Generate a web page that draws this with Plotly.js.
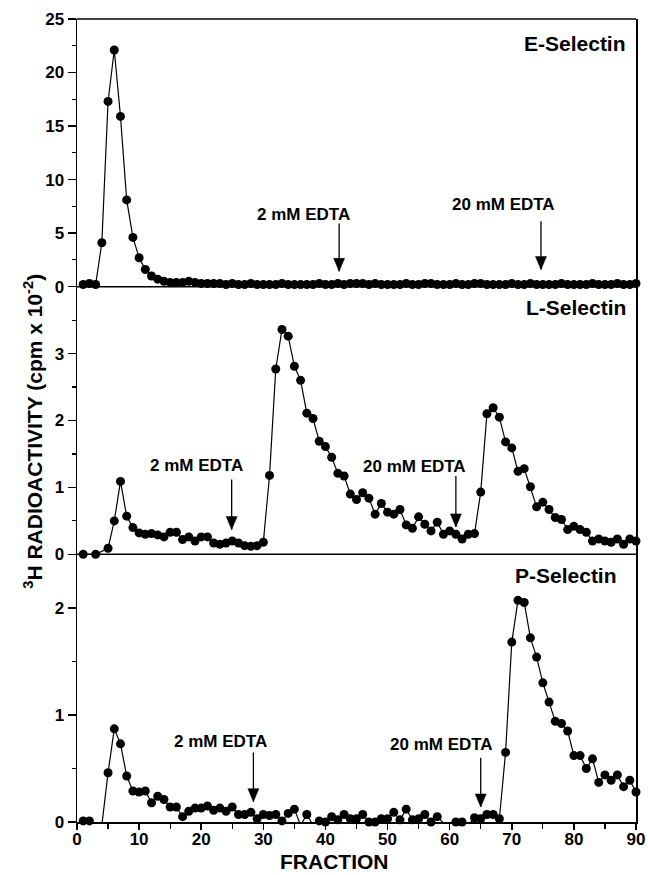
<!DOCTYPE html>
<html><head><meta charset="utf-8">
<script src="https://cdn.plot.ly/plotly-3.0.1.min.js"></script>
<style>html,body{margin:0;padding:0;background:#fff}</style>
</head><body>
<div id="chart" style="width:648px;height:875px"></div>
<script>
// ---------- data ----------
const eFractions = [1,2,3,4,5,6,7,8,9,10,11,12,13,14,15,16,17,18,19,20,21,22,23,24,25,26,27,28,29,30,31,32,33,34,35,36,37,38,39,40,41,42,43,44,45,46,47,48,49,50,51,52,53,54,55,56,57,58,59,60,61,62,63,64,65,66,67,68,69,70,71,72,73,74,75,76,77,78,79,80,81,82,83,84,85,86,87,88,89,90];
const eValues = [0.2,0.3,0.2,4.1,17.3,22.1,15.9,8.1,4.6,2.7,
                 1.6,1.0,0.7,0.5,0.4,0.4,0.4,0.5,0.4,0.3,
                 0.3,0.3,0.3,0.2,0.3,0.2,0.2,0.3,0.2,0.2,
                 0.2,0.2,0.3,0.2,0.2,0.2,0.2,0.2,0.3,0.2,
                 0.2,0.3,0.2,0.3,0.3,0.3,0.2,0.3,0.2,0.2,
                 0.2,0.2,0.3,0.2,0.2,0.3,0.3,0.2,0.2,0.2,
                 0.3,0.2,0.2,0.3,0.3,0.2,0.2,0.2,0.2,0.3,
                 0.2,0.2,0.3,0.2,0.2,0.2,0.2,0.3,0.2,0.2,
                 0.2,0.2,0.3,0.2,0.2,0.2,0.3,0.2,0.2,0.3];
const eHidden = [];

const lFractions = [1,3,5,6,7,8,9,10,11,12,13,14,15,16,17,18,19,20,21,22,23,24,25,26,27,28,29,30,31,32,33,34,35,36,37,38,39,40,41,42,43,44,45,46,47,48,49,50,51,52,53,54,55,56,57,58,59,60,61,62,63,64,65,66,67,68,69,70,71,72,73,74,75,76,77,78,79,80,81,82,83,84,85,86,87,88,89,90];
const lValues = [0.0,0.0,
                 0.09,0.50,1.09,0.57,0.40,0.32,
                 0.30,0.31,0.29,0.26,0.33,0.33,0.22,0.26,0.20,0.26,
                 0.26,0.17,0.15,0.17,0.20,0.17,0.13,0.12,0.13,0.18,
                 1.18,2.77,3.36,3.26,2.81,2.60,2.11,2.03,1.69,1.61,
                 1.45,1.21,1.17,0.90,0.82,0.92,0.84,0.60,0.76,0.63,
                 0.60,0.67,0.44,0.39,0.56,0.45,0.35,0.48,0.30,0.35,
                 0.30,0.23,0.30,0.31,0.93,2.10,2.19,2.05,1.68,1.59,
                 1.24,1.28,1.01,0.71,0.78,0.67,0.55,0.52,0.37,0.42,
                 0.37,0.33,0.20,0.23,0.20,0.18,0.23,0.15,0.23,0.20];
const lHidden = [];

const pFractions = [1,2,3,4,5,6,7,8,9,10,11,12,13,14,15,16,17,18,19,20,21,22,23,24,25,26,27,28,29,30,31,32,33,34,35,36,37,38,39,40,41,42,43,44,45,46,47,48,49,50,51,52,53,54,55,56,57,58,59,60,61,62,63,64,65,66,67,68,69,70,71,72,73,74,75,76,77,78,79,80,81,82,83,84,85,86,87,88,89,90];
const pValues = [0.01,0.01,-0.03,-0.03,0.46,0.87,0.73,0.43,0.29,0.28,
                 0.29,0.18,0.24,0.21,0.14,0.14,0.05,0.10,0.13,0.13,
                 0.15,0.11,0.13,0.10,0.14,0.07,0.07,0.09,0.03,0.07,
                 0.06,0.07,0.01,0.08,0.12,-0.03,0.07,-0.03,0.01,0.00,
                 0.05,0.02,0.07,0.03,0.03,0.07,0.00,0.00,0.03,0.03,
                 0.09,0.02,0.12,0.02,0.03,0.07,0.00,0.05,-0.01,-0.01,
                 0.00,0.00,-0.03,0.04,0.03,0.07,0.07,0.03,0.65,1.68,
                 2.07,2.05,1.72,1.54,1.30,1.12,0.94,0.92,0.85,0.62,
                 0.62,0.50,0.59,0.37,0.44,0.39,0.44,0.33,0.39,0.28];
const pHidden = [3,4,36,38,63];

const panelLabels = ['E-Selectin','L-Selectin','P-Selectin'];
const edtaLabels = ['2 mM EDTA','20 mM EDTA'];
const eEdtaFractions = [42.2, 74.7];
const lEdtaFractions = [24.9, 61.0];
const pEdtaFractions = [28.4, 65.0];
const xTickVals = [0,10,20,30,40,50,60,70,80,90];
const eTickVals = [0,5,10,15,20,25];
const lTickVals = [0,1,2,3];
const pTickVals = [0,1,2];

// ---------- drawing ----------
const FONT = 'Liberation Sans, Arial, Helvetica, sans-serif';
const BLACK = '#000';

function series(fr, vals, hidden, yax) {
  return {
    type: 'scatter', mode: 'lines+markers', x: fr, y: vals, xaxis: 'x', yaxis: yax,
    cliponaxis: false, hoverinfo: 'skip',
    line: {color: BLACK, width: 1.2},
    marker: {color: BLACK, opacity: 1, line: {width: 0},
             size: fr.map(f => hidden.indexOf(f) >= 0 ? 0 : 9)}
  };
}

const traces = [
  series(eFractions, eValues, eHidden, 'y'),
  series(lFractions, lValues, lHidden, 'y2'),
  series(pFractions, pValues, pHidden, 'y3')
];

const tickFont = {family: FONT, size: 17, color: BLACK, weight: 'bold'};
function yAxis(domain, range, tickvals, minorD) {
  return {
    domain: domain, range: range, anchor: 'x', tickvals: tickvals,
    showline: true, linecolor: BLACK, linewidth: 1.5, mirror: true,
    ticks: 'outside', ticklen: 8, tickwidth: 1.5, tickcolor: BLACK,
    showgrid: false, zeroline: false, tickfont: tickFont,
    minor: {dtick: minorD, tick0: 0, ticks: 'outside', ticklen: 4, tickwidth: 1.2, tickcolor: BLACK, showgrid: false}
  };
}

// arrows: a shaft line plus a filled triangular head sized in pixels
const shapes = [];
function arrow(fx, yref, tip, tail) {
  shapes.push({type: 'line', xref: 'x', yref: yref, x0: fx, x1: fx, y0: tail, y1: tip,
               line: {color: BLACK, width: 1.3}});
  shapes.push({type: 'path', xref: 'x', yref: yref, xsizemode: 'pixel', ysizemode: 'pixel',
               xanchor: fx, yanchor: tip, path: 'M-5.5,13 L5.5,13 L0,0 Z',
               fillcolor: BLACK, line: {color: BLACK, width: 0.5}});
}
function label(txt, fx, yref, y) {
  return {xref: 'x', yref: yref, x: fx, y: y, text: '<b>' + txt + '</b>', showarrow: false,
          xanchor: 'center', yanchor: 'middle', font: {family: FONT, size: 17, color: BLACK}};
}
function panelLabel(txt, x, y) {
  return {xref: 'paper', yref: 'paper', x: x, y: y, text: '<b>' + txt + '</b>', showarrow: false,
          xanchor: 'right', yanchor: 'middle', font: {family: FONT, size: 21, color: BLACK}};
}

arrow(eEdtaFractions[0], 'y', 1.43, 5.9);
arrow(eEdtaFractions[1], 'y', 1.6, 6.1);
arrow(lEdtaFractions[0], 'y2', 0.37, 1.12);
arrow(lEdtaFractions[1], 'y2', 0.41, 1.17);
arrow(pEdtaFractions[0], 'y3', 0.19, 0.65);
arrow(pEdtaFractions[1], 'y3', 0.14, 0.60);

const annotations = [
  panelLabel(panelLabels[0], 0.9857, 0.970),
  panelLabel(panelLabels[1], 0.9857, 0.6407),
  panelLabel(panelLabels[2], 0.970, 0.307),
  label(edtaLabels[0], 36.4, 'y', 6.7),
  label(edtaLabels[1], 68.7, 'y', 7.7),
  label(edtaLabels[0], 19.3, 'y2', 1.33),
  label(edtaLabels[1], 54.4, 'y2', 1.32),
  label(edtaLabels[0], 23.1, 'y3', 0.75),
  label(edtaLabels[1], 58.7, 'y3', 0.72),
  {xref: 'paper', yref: 'paper', x: -0.0787, y: 0.486, textangle: -90, showarrow: false,
   xanchor: 'center', yanchor: 'middle',
   text: '<b><sup>3</sup>H RADIOACTIVITY (cpm x 10<sup>-2</sup>)</b>',
   font: {family: FONT, size: 21, color: BLACK}},
  {xref: 'paper', yref: 'paper', x: 0.46, y: -0.0498, showarrow: false, borderpad: 0,
   xanchor: 'center', yanchor: 'middle', text: '<b>FRACTION</b>',
   font: {family: FONT, size: 21, color: BLACK}}
];

const hline = y => ({type: 'line', xref: 'paper', yref: 'paper', x0: 0, x1: 1, y0: y, y1: y,
                     line: {color: BLACK, width: 1.5}});
shapes.push(hline(1), hline(2/3), hline(1/3));

const layout = {
  width: 648, height: 875,
  margin: {l: 77, r: 12, t: 19, b: 53, pad: 0},
  paper_bgcolor: '#fff', plot_bgcolor: 'rgba(0,0,0,0)',
  showlegend: false,
  font: {family: FONT, color: BLACK},
  xaxis: {
    domain: [0, 1], range: [0, 90], anchor: 'y3', tickvals: xTickVals,
    showline: true, linecolor: BLACK, linewidth: 1.5,
    ticks: 'outside', ticklen: 6, tickwidth: 1.5, tickcolor: BLACK,
    ticklabelstandoff: -5,
    showgrid: false, zeroline: false, tickfont: tickFont,
    minor: {dtick: 5, tick0: 0, ticks: 'outside', ticklen: 5, tickwidth: 1.2, tickcolor: BLACK, showgrid: false}
  },
  yaxis: yAxis([2/3, 1], [0, 25], eTickVals, 2.5),
  yaxis2: yAxis([1/3, 2/3], [0, 4], lTickVals, 0.5),
  yaxis3: yAxis([0, 1/3], [0, 2.5], pTickVals, 0.5),
  shapes: shapes,
  annotations: annotations
};

Plotly.newPlot('chart', traces, layout, {staticPlot: true, displayModeBar: false});
</script>
</body></html>
